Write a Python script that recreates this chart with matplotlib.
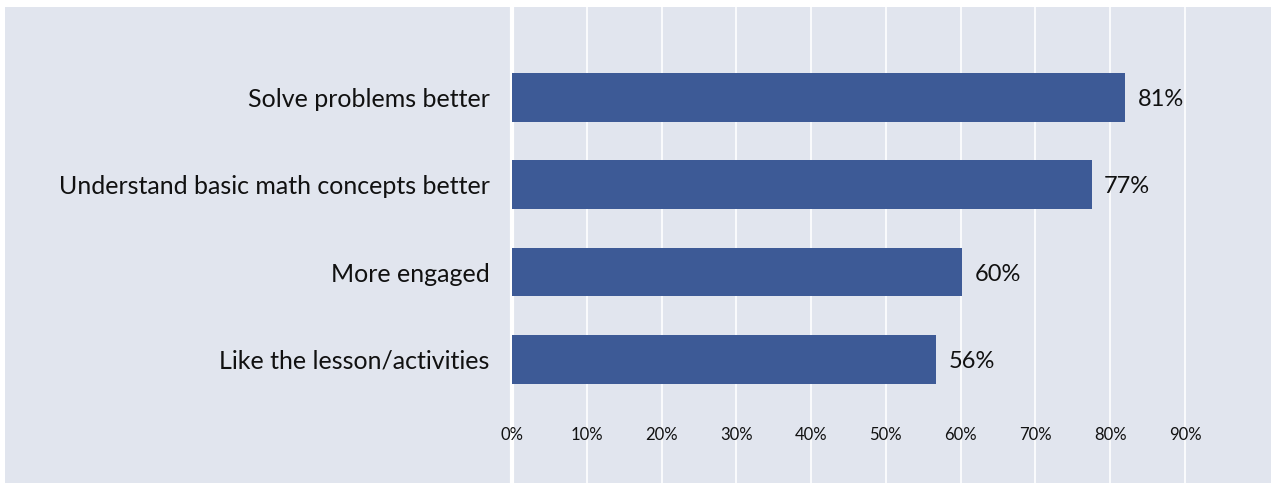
import matplotlib.pyplot as plt
from matplotlib.patches import Rectangle

categories = ["Solve problems better", "Understand basic math concepts better",
              "More engaged", "Like the lesson/activities"]
values = [82.0, 77.5, 60.2, 56.7]
value_labels = ["81%", "77%", "60%", "56%"]
xticks = [0, 10, 20, 30, 40, 50, 60, 70, 80, 90]
xtick_labels = ["0%", "10%", "20%", "30%", "40%", "50%", "60%", "70%", "80%", "90%"]

bg = "#e1e5ee"
bar_color = "#3d5a96"

plt.rcParams['font.family'] = ['Lato', 'DejaVu Sans']

fig = plt.figure(figsize=(12.71, 4.83), dpi=100, facecolor="white")
fig.patches.append(Rectangle((5/1271, 0), 1, 476/483, transform=fig.transFigure,
                             facecolor=bg, edgecolor="none", zorder=-5))

ax = fig.add_axes([512/1271, 0, 759/1271, 476/483])
ax.set_facecolor(bg)
for s in ax.spines.values():
    s.set_visible(False)

ypos = list(range(len(categories)))
ax.barh(ypos, values, height=0.56, color=bar_color, zorder=3)

ax.set_xlim(0, 101.5)
ax.set_ylim(4.42, -1.04)

ax.set_xticks(xticks)
ax.set_xticklabels(xtick_labels, fontsize=12, color="#111111")
ax.set_yticks(ypos)
ax.set_yticklabels(categories, fontsize=18, color="#111111")
for t in ax.get_yticklabels():
    t.set_va("center_baseline")
ax.tick_params(axis='x', length=0, pad=-40)
ax.tick_params(axis='y', length=0, pad=16)

ax.grid(axis='x', color="white", linewidth=1.2)
ax.set_axisbelow(True)
# thick white baseline at 0, kept under the tick labels
ax.axvline(0, color="white", linewidth=3, clip_on=False, zorder=0.4)

for y, v, lab in zip(ypos, values, value_labels):
    ax.annotate(lab, (v, y), xytext=(9, 0), textcoords="offset points",
                va="center_baseline", ha="left", fontsize=17, color="#111111")

fig.savefig("out.png", dpi=100, facecolor="white")
